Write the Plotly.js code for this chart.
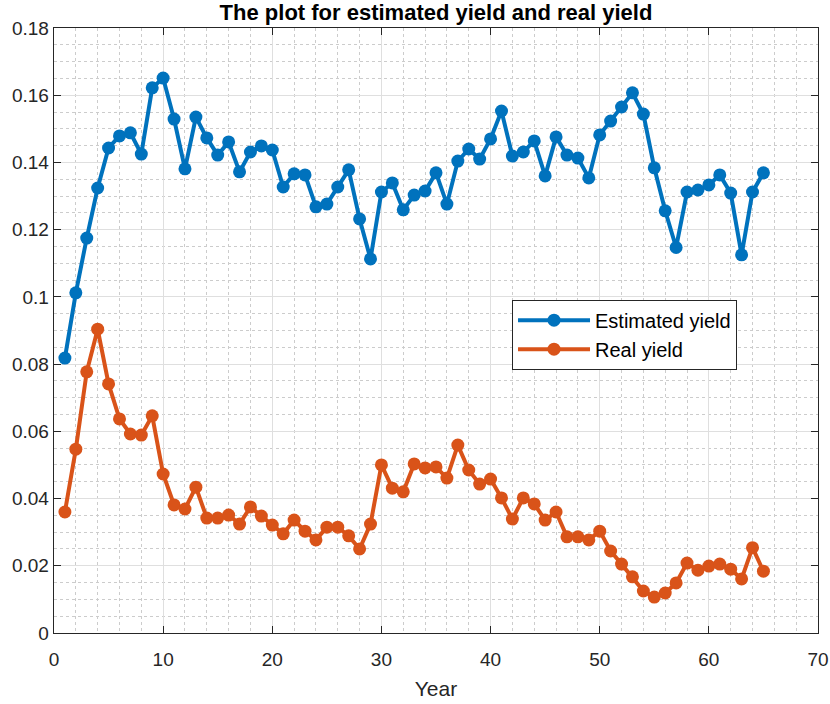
<!DOCTYPE html>
<html>
<head>
<meta charset="utf-8">
<script src="https://cdn.plot.ly/plotly-3.0.1.min.js"></script>
<style>
  html, body { margin: 0; padding: 0; background: #fff; }
  #chart { width: 830px; height: 704px; }
</style>
</head>
<body>
<div id="chart"></div>
<script>
// years 1..65
var years = [];
for (var i = 1; i <= 65; i++) years.push(i);

var estimatedYield = [
  0.0818, 0.1012, 0.1175, 0.1324, 0.1443, 0.1479, 0.1488, 0.1425, 0.1622, 0.1651,
  0.1529, 0.1381, 0.1535, 0.1473, 0.1422, 0.1461, 0.1372, 0.1431, 0.1449, 0.1437,
  0.1327, 0.1366, 0.1363, 0.1268, 0.1276, 0.1327, 0.1378, 0.1232, 0.1113, 0.1312,
  0.1339, 0.1259, 0.1303, 0.1315, 0.1369, 0.1276, 0.1404, 0.1440, 0.1410, 0.1470,
  0.1553, 0.1419, 0.1431, 0.1464, 0.1360, 0.1476, 0.1422, 0.1413, 0.1354, 0.1482,
  0.1523, 0.1565, 0.1607, 0.1544, 0.1384, 0.1256, 0.1147, 0.1312, 0.1318, 0.1333,
  0.1363, 0.1309, 0.1125, 0.1312, 0.1369
];

var realYield = [
  0.0360, 0.0547, 0.0777, 0.0904, 0.0741, 0.0637, 0.0592, 0.0589, 0.0646, 0.0473,
  0.0381, 0.0369, 0.0434, 0.0342, 0.0342, 0.0351, 0.0324, 0.0375, 0.0348, 0.0321,
  0.0295, 0.0336, 0.0303, 0.0277, 0.0315, 0.0315, 0.0289, 0.0250, 0.0324, 0.0500,
  0.0431, 0.0420, 0.0503, 0.0491, 0.0494, 0.0461, 0.0559, 0.0485, 0.0443, 0.0458,
  0.0402, 0.0339, 0.0402, 0.0384, 0.0336, 0.0360, 0.0286, 0.0286, 0.0277, 0.0303,
  0.0244, 0.0205, 0.0167, 0.0125, 0.0107, 0.0119, 0.0149, 0.0208, 0.0187, 0.0199,
  0.0205, 0.0190, 0.0161, 0.0254, 0.0184
];

var blue = '#0072BD';
var orange = '#D95319';

var trace1 = {
  x: years,
  y: estimatedYield,
  mode: 'lines+markers',
  name: 'Estimated yield',
  line: { color: blue, width: 4 },
  marker: { color: blue, size: 13 }
};

var trace2 = {
  x: years,
  y: realYield,
  mode: 'lines+markers',
  name: 'Real yield',
  line: { color: orange, width: 4 },
  marker: { color: orange, size: 13 }
};

var axisCommon = {
  showline: true,
  linecolor: '#262626',
  linewidth: 1.3,
  mirror: 'ticks',
  ticks: 'inside',
  ticklen: 7,
  tickcolor: '#262626',
  tickmode: 'linear',
  showgrid: true,
  gridcolor: '#dfdfdf',
  gridwidth: 1,
  zeroline: false,
  tickfont: { family: 'Liberation Sans, Arial, sans-serif', size: 19, color: '#262626' }
};

var layout = {
  width: 830,
  height: 704,
  paper_bgcolor: '#ffffff',
  plot_bgcolor: '#ffffff',
  margin: { l: 54, r: 12, t: 28, b: 71 },
  font: { family: 'Liberation Sans, Arial, sans-serif', color: '#262626' },
  title: {
    text: '<b>The plot for estimated yield and real yield</b>',
    font: { family: 'Liberation Sans, Arial, sans-serif', size: 22, color: '#000000' },
    xref: 'paper',
    x: 0.5,
    xanchor: 'center',
    yref: 'container',
    y: 0.993,
    yanchor: 'top'
  },
  xaxis: Object.assign({}, axisCommon, {
    range: [0, 70],
    tick0: 0,
    dtick: 10,
    ticklabelstandoff: 9,
    minor: { dtick: 2, showgrid: true, griddash: 'dot', gridcolor: '#cccccc', gridwidth: 1, ticks: '' },
    title: { text: 'Year', font: { size: 21, color: '#262626' }, standoff: 12 }
  }),
  yaxis: Object.assign({}, axisCommon, {
    range: [0, 0.18],
    tick0: 0,
    dtick: 0.02,
    minor: { dtick: 0.005, showgrid: true, griddash: 'dot', gridcolor: '#cccccc', gridwidth: 1, ticks: '' }
  }),
  showlegend: true,
  legend: {
    x: 0.5995,
    y: 0.551,
    xanchor: 'left',
    yanchor: 'top',
    bgcolor: '#ffffff',
    bordercolor: '#262626',
    borderwidth: 1,
    font: { family: 'Liberation Sans, Arial, sans-serif', size: 20, color: '#000000' },
    itemwidth: 72,
    tracegroupgap: 0
  }
};

var config = { staticPlot: true };

Plotly.newPlot('chart', [trace1, trace2], layout, config);
</script>
</body>
</html>
